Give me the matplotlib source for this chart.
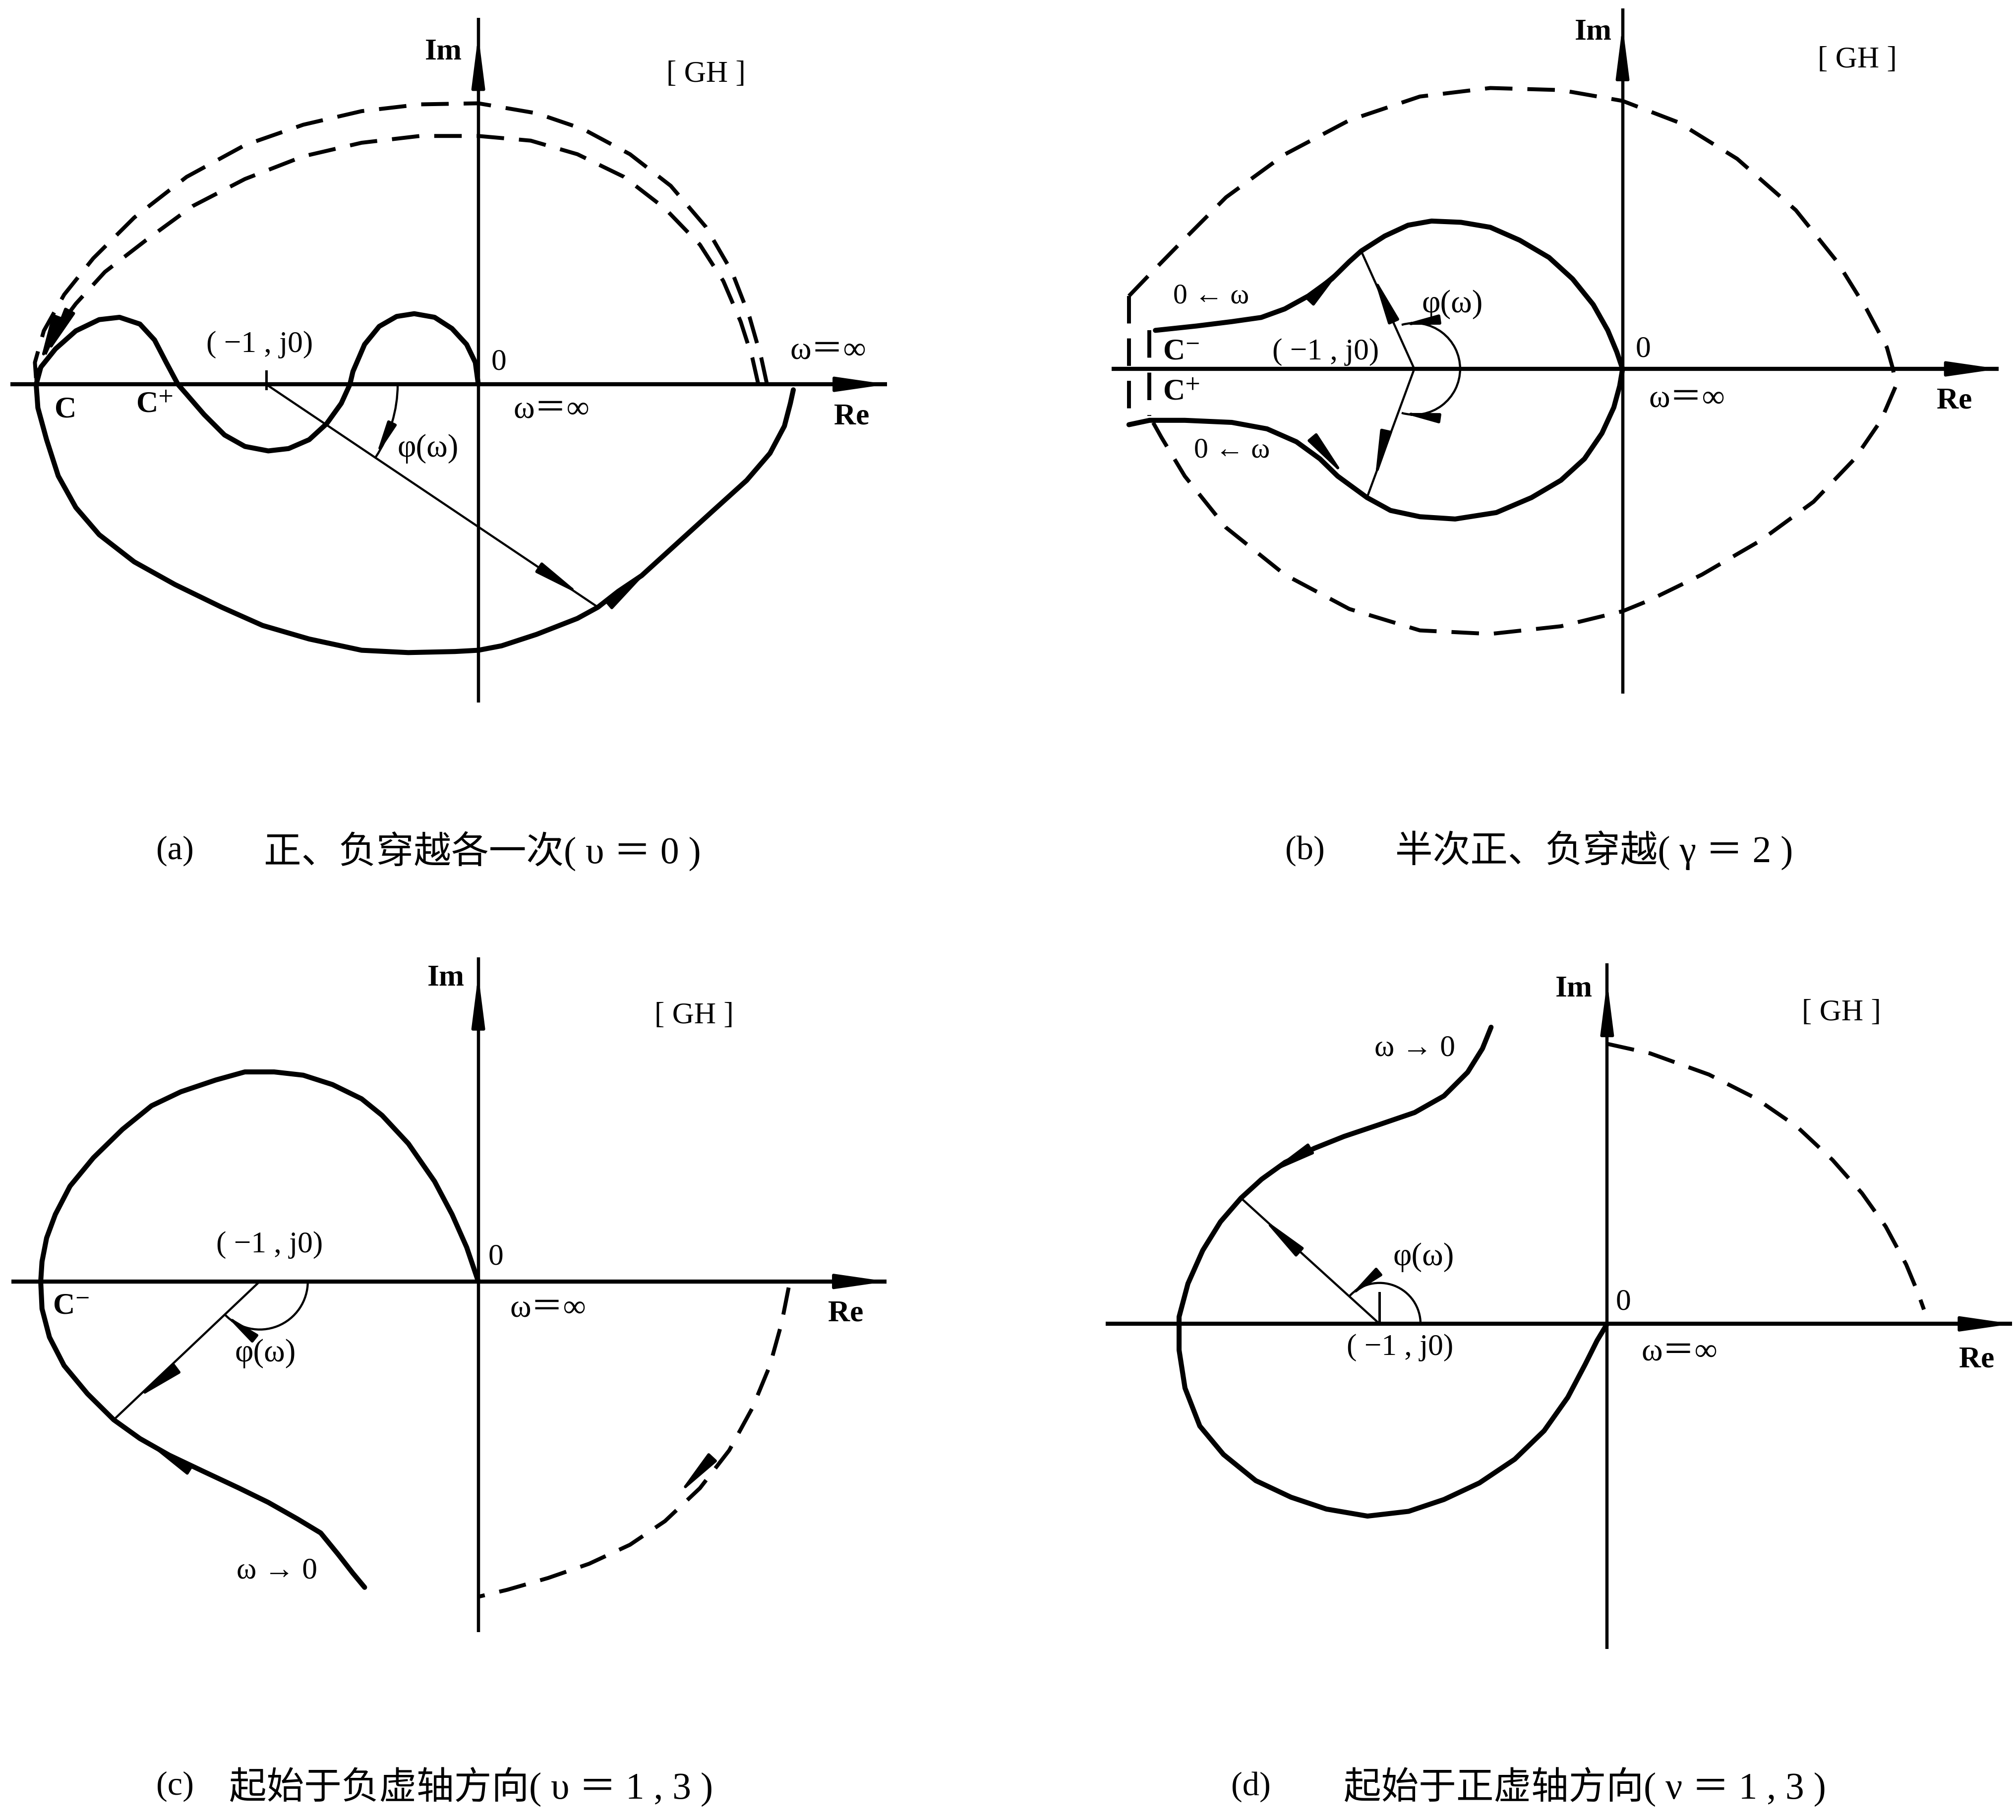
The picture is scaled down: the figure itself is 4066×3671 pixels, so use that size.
import matplotlib
matplotlib.use('Agg')
import matplotlib.pyplot as plt
from matplotlib.patches import Arc
import numpy as np

plt.rcParams['font.family'] = ['Liberation Serif', 'DejaVu Serif', 'Noto Sans CJK SC']
plt.rcParams['mathtext.fontset'] = 'stix'

# points, unit = distance from 0 to (-1, j0)

# ---- (a) ----
a_solid = [(0, 0), (-0.014, 0.103), (-0.055, 0.188), (-0.124, 0.263), (-0.206, 0.316),
           (-0.302, 0.333), (-0.385, 0.320), (-0.467, 0.273), (-0.536, 0.188), (-0.591, 0.060),
           (-0.605, 0), (-0.646, -0.090), (-0.715, -0.186), (-0.797, -0.261), (-0.894, -0.303),
           (-0.990, -0.314), (-1.100, -0.293), (-1.196, -0.239), (-1.292, -0.143), (-1.375, -0.047),
           (-1.416, 0), (-1.471, 0.103), (-1.526, 0.209), (-1.595, 0.284), (-1.691, 0.316),
           (-1.787, 0.305), (-1.897, 0.252), (-1.993, 0.167), (-2.062, 0.081), (-2.084, 0),
           (-2.076, -0.111), (-2.035, -0.261), (-1.980, -0.432), (-1.897, -0.581), (-1.787, -0.709),
           (-1.622, -0.837), (-1.430, -0.944), (-1.210, -1.051), (-1.017, -1.137), (-0.797, -1.201),
           (-0.550, -1.254), (-0.330, -1.265), (-0.110, -1.260), (0, -1.254), (0.110, -1.233),
           (0.275, -1.179), (0.467, -1.104), (0.564, -1.051), (0.660, -0.976), (0.770, -0.902),
           (0.935, -0.752), (1.100, -0.602), (1.265, -0.453), (1.375, -0.325), (1.443, -0.197),
           (1.471, -0.090), (1.485, -0.026)]
a_dash_outer = [(1.361, 0), (1.334, 0.124), (1.279, 0.316), (1.196, 0.530), (1.072, 0.743),
                (0.907, 0.936), (0.715, 1.085), (0.495, 1.203), (0.275, 1.278), (0, 1.325),
                (-0.275, 1.320), (-0.550, 1.288), (-0.825, 1.224), (-1.100, 1.128), (-1.375, 0.978),
                (-1.622, 0.786), (-1.815, 0.594), (-1.952, 0.423), (-2.048, 0.252), (-2.090, 0.103),
                (-2.084, 0.017)]
a_dash_inner = [(1.320, 0), (1.292, 0.124), (1.237, 0.295), (1.155, 0.487), (1.045, 0.658),
                (0.880, 0.829), (0.687, 0.978), (0.467, 1.085), (0.247, 1.149), (0, 1.171),
                (-0.275, 1.171), (-0.550, 1.139), (-0.825, 1.075), (-1.100, 0.968), (-1.347, 0.840),
                (-1.567, 0.679), (-1.760, 0.530), (-1.897, 0.380), (-1.993, 0.252), (-2.062, 0.103),
                (-2.084, 0.017)]
a_radial_end = (0.564, -1.051)
a_phi_r = 0.62
a_re_axis = (-2.206, 1.927)
a_im_axis = (-1.50, 1.727)
a_heads = [((0.70, -0.965), (0.80, -0.88)),      # on the curve
           ((0.33, -0.893), (0.49, -0.998)),     # radial line
           ((-2.00, 0.27), (-2.07, 0.09)),       # dashed ends
           ((-1.95, 0.30), (-2.04, 0.13))]
a_labels = [('Im', -0.164, 1.567, 17, 'bold'), ('[ GH ]', 1.073, 1.461, 17, 'normal'),
            ('0', 0.097, 0.103, 17, 'normal'), ('ω＝∞', 1.65, 0.158, 18, 'normal'),
            ('ω＝∞', 0.345, -0.121, 18, 'normal'), ('Re', 1.76, -0.152, 17, 'bold'),
            ('( −1 , j0)', -1.03, 0.188, 17, 'normal'), ('C', -1.945, -0.121, 17, 'bold'),
            ('C$^{+}$', -1.527, -0.097, 17, 'bold'), ('φ(ω)', -0.236, -0.303, 18, 'normal')]

# ---- (b) ----
b_upper = [(-2.243, 0.185), (-2.045, 0.206), (-1.876, 0.227), (-1.735, 0.247), (-1.622, 0.288),
           (-1.509, 0.350), (-1.396, 0.432), (-1.312, 0.515), (-1.255, 0.566), (-1.142, 0.638),
           (-1.030, 0.690), (-0.917, 0.710), (-0.776, 0.704), (-0.635, 0.680), (-0.494, 0.618),
           (-0.353, 0.535), (-0.240, 0.432), (-0.141, 0.309), (-0.071, 0.185), (-0.028, 0.082),
           (0, 0)]
b_lower = [(0, 0), (-0.014, -0.082), (-0.042, -0.185), (-0.099, -0.309), (-0.183, -0.432),
           (-0.296, -0.535), (-0.437, -0.618), (-0.606, -0.690), (-0.804, -0.721), (-0.973, -0.710),
           (-1.114, -0.680), (-1.227, -0.618), (-1.312, -0.556), (-1.368, -0.515), (-1.453, -0.432),
           (-1.566, -0.350), (-1.707, -0.288), (-1.876, -0.257), (-2.102, -0.247), (-2.271, -0.247),
           (-2.370, -0.268)]
b_dash = [(-2.370, 0.350), (-2.271, 0.453), (-2.130, 0.597), (-1.904, 0.824), (-1.622, 1.030),
          (-1.312, 1.194), (-0.973, 1.308), (-0.635, 1.349), (-0.296, 1.339), (0, 1.287),
          (0.268, 1.184), (0.550, 1.009), (0.832, 0.762), (1.030, 0.515), (1.171, 0.288),
          (1.269, 0.103), (1.298, 0), (1.312, -0.082), (1.241, -0.247), (1.114, -0.432),
          (0.917, -0.638), (0.663, -0.824), (0.381, -0.988), (0.127, -1.112), (0, -1.164),
          (-0.296, -1.236), (-0.635, -1.273), (-0.973, -1.256), (-1.312, -1.153), (-1.622, -0.988),
          (-1.904, -0.762), (-2.102, -0.515), (-2.214, -0.329), (-2.271, -0.227)]
b_dash_left = [(-2.370, 0.350), (-2.370, -0.268)]
b_dash_in = [(-2.271, 0.185), (-2.271, -0.227)]
b_radial_ends = [(-1.255, 0.566), (-1.227, -0.618)]
b_phi_r = 0.22
b_re_axis = (-2.454, 1.805)
b_im_axis = (-1.56, 1.73)
b_heads = [((-1.43, 0.40), (-1.33, 0.505)),
           ((-1.43, -0.40), (-1.33, -0.52)),
           ((-1.14, 0.32), (-1.20, 0.455)),
           ((-1.14, -0.32), (-1.19, -0.54))]
b_labels = [('Im', -0.141, 1.617, 17, 'bold'), ('[ GH ]', 1.128, 1.483, 17, 'normal'),
            ('0 ← ω', -1.975, 0.350, 16, 'normal'), ('0 ← ω', -1.876, -0.391, 16, 'normal'),
            ('φ(ω)', -0.818, 0.309, 18, 'normal'), ('C$^{-}$', -2.120, 0.082, 17, 'bold'),
            ('( −1 , j0)', -1.425, 0.082, 17, 'normal'), ('C$^{+}$', -2.120, -0.113, 17, 'bold'),
            ('0', 0.099, 0.093, 17, 'normal'), ('ω＝∞', 0.310, -0.144, 18, 'normal'),
            ('Re', 1.594, -0.154, 17, 'bold')]

# ---- (c) ----
c_solid = [(0, 0), (-0.053, 0.156), (-0.120, 0.307), (-0.200, 0.458), (-0.320, 0.631),
           (-0.440, 0.760), (-0.534, 0.836), (-0.667, 0.901), (-0.801, 0.944), (-0.934, 0.959),
           (-1.068, 0.959), (-1.201, 0.922), (-1.361, 0.868), (-1.495, 0.804), (-1.628, 0.696),
           (-1.761, 0.566), (-1.868, 0.436), (-1.935, 0.307), (-1.975, 0.199), (-1.996, 0.091),
           (-2.002, 0), (-1.996, -0.125), (-1.962, -0.255), (-1.895, -0.385), (-1.788, -0.514),
           (-1.668, -0.633), (-1.548, -0.719), (-1.414, -0.795), (-1.254, -0.871), (-1.094, -0.946),
           (-0.961, -1.011), (-0.827, -1.087), (-0.721, -1.151), (-0.641, -1.249), (-0.574, -1.335),
           (-0.520, -1.400)]
c_dash = [(1.420, -0.028), (1.388, -0.190), (1.334, -0.385), (1.254, -0.579), (1.148, -0.773),
          (1.014, -0.946), (0.854, -1.097), (0.694, -1.205), (0.507, -1.292), (0.320, -1.357),
          (0.133, -1.411), (0, -1.443)]
c_radial_end = (-1.668, -0.633)
c_phi_r = 0.22
c_re_axis = (-2.135, 1.868)
c_im_axis = (-1.605, 1.484)
c_heads = [((-1.45, -0.45), (-1.57, -0.54)),
           ((-1.40, -0.81), (-1.52, -0.735)),
           ((1.03, -0.85), (0.91, -0.98))]
c_labels = [('Im', -0.147, 1.387, 17, 'bold'), ('[ GH ]', 0.987, 1.214, 17, 'normal'),
            ('( −1 , j0)', -0.955, 0.166, 17, 'normal'), ('0', 0.080, 0.112, 17, 'normal'),
            ('C$^{-}$', -1.864, -0.114, 17, 'bold'), ('ω＝∞', 0.320, -0.125, 18, 'normal'),
            ('Re', 1.681, -0.147, 17, 'bold'), ('φ(ω)', -0.974, -0.331, 18, 'normal'),
            ('ω → 0', -0.921, -1.324, 17, 'normal')]

# ---- (d) ----
d_solid = [(-0.510, 1.304), (-0.548, 1.210), (-0.613, 1.106), (-0.717, 1.002), (-0.846, 0.929),
           (-1.001, 0.876), (-1.156, 0.824), (-1.286, 0.772), (-1.415, 0.710), (-1.518, 0.636),
           (-1.609, 0.553), (-1.699, 0.449), (-1.777, 0.323), (-1.842, 0.177), (-1.881, 0.031),
           (-1.881, -0.115), (-1.855, -0.282), (-1.790, -0.449), (-1.686, -0.574), (-1.544, -0.689),
           (-1.389, -0.762), (-1.234, -0.814), (-1.053, -0.845), (-0.872, -0.824), (-0.717, -0.772),
           (-0.561, -0.699), (-0.406, -0.595), (-0.277, -0.470), (-0.173, -0.323), (-0.096, -0.177),
           (-0.044, -0.073), (0, 0)]
d_dash = [(0, 1.231), (0.189, 1.189), (0.447, 1.096), (0.654, 0.991), (0.835, 0.866),
          (0.991, 0.720), (1.120, 0.574), (1.224, 0.428), (1.314, 0.261), (1.366, 0.136),
          (1.392, 0.063)]
d_radial_end = (-1.609, 0.553)
d_phi_r = 0.18
d_tick = [(-1, 0), (-1, 0.135)]
d_re_axis = (-2.204, 1.780)
d_im_axis = (-1.429, 1.586)
d_heads = [((-1.40, 0.36), (-1.52, 0.47)),
           ((-1.38, 0.725), (-1.50, 0.655))]
d_labels = [('Im', -0.147, 1.471, 17, 'bold'), ('[ GH ]', 1.029, 1.367, 17, 'normal'),
            ('ω → 0', -0.846, 1.210, 17, 'normal'), ('φ(ω)', -0.807, 0.292, 18, 'normal'),
            ('0', 0.072, 0.094, 17, 'normal'), ('( −1 , j0)', -0.911, -0.104, 17, 'normal'),
            ('ω＝∞', 0.318, -0.125, 18, 'normal'), ('Re', 1.624, -0.157, 17, 'bold')]

# captions
cap_tags = ['(a)', '(b)', '(c)', '(d)']
cap_words = ['正、负穿越各一次', '半次正、负穿越', '起始于负虚轴方向', '起始于正虚轴方向']
cap_params = ['( υ ＝ 0 )', '( γ ＝ 2 )', '( υ ＝ 1 , 3 )', '( ν ＝ 1 , 3 )']

# ---- layout (in pixels of a 1568 x 1416 sheet) ----
W, H = 1568.0, 1416.0
dpi = 259.3
fig = plt.figure(figsize=(4066 / dpi, 3671 / dpi), dpi=dpi)
fig.patch.set_facecolor('white')


def make_panel(box, origin, unit):
    x0, y0, x1, y1 = box
    ox, oy = origin
    ax = fig.add_axes([x0 / W, 1 - y1 / H, (x1 - x0) / W, (y1 - y0) / H])
    ax.set_xlim((x0 - ox) / unit, (x1 - ox) / unit)
    ax.set_ylim((oy - y1) / unit, (oy - y0) / unit)
    ax.axis('off')
    return ax


def head(ax, p0, p1, ms=20, hw=0.13):
    ax.annotate('', xy=p1, xytext=p0,
                arrowprops=dict(arrowstyle='-|>,head_length=1.1,head_width=%g' % hw,
                                color='k', lw=1.6, shrinkA=0, shrinkB=0, mutation_scale=ms))


def draw_axes(ax, re_span, im_span):
    ax.plot(re_span, [0, 0], color='k', lw=2.3, solid_capstyle='butt')
    ax.plot([0, 0], im_span, color='k', lw=1.8, solid_capstyle='butt')
    head(ax, (re_span[1] - 0.2, 0), (re_span[1], 0), ms=22, hw=0.16)
    head(ax, (0, im_span[1] - 0.25), (0, im_span[1] - 0.08), ms=22, hw=0.14)


def curve(ax, pts, dashed=False, lw=2.8):
    p = np.array(pts)
    if dashed:
        ax.plot(p[:, 0], p[:, 1], color='k', lw=2.2, dashes=(7, 3.8))
    else:
        ax.plot(p[:, 0], p[:, 1], color='k', lw=lw, solid_joinstyle='round',
                solid_capstyle='round')


def radial(ax, end):
    ax.plot([-1, end[0]], [0, end[1]], color='k', lw=1.2)


def phi_arc(ax, r, t1, t2, tips):
    ax.add_patch(Arc((-1, 0), 2 * r, 2 * r, theta1=t1, theta2=t2, color='k', lw=1.2))
    for ang, sgn in tips:
        a0 = np.radians(ang - sgn * 16)
        a1 = np.radians(ang)
        head(ax, (-1 + r * np.cos(a0), r * np.sin(a0)), (-1 + r * np.cos(a1), r * np.sin(a1)),
             ms=14, hw=0.15)


def labels(ax, items):
    for s, x, y, fs, wt in items:
        ax.text(x, y, s, fontsize=fs, fontweight=wt, ha='center', va='center')


def angle_of(end):
    return np.degrees(np.arctan2(end[1], end[0] + 1))


# (a)
ax = make_panel((0, 0, 784, 620), (372, 299), 165)
draw_axes(ax, a_re_axis, a_im_axis)
curve(ax, a_dash_outer, dashed=True)
curve(ax, a_dash_inner, dashed=True)
curve(ax, a_solid)
radial(ax, a_radial_end)
ax.plot([-1, -1], [-0.02, 0.06], color='k', lw=1.4)
ta = angle_of(a_radial_end)
phi_arc(ax, a_phi_r, ta, 0, [(ta, -1)])
for p0, p1 in a_heads:
    head(ax, p0, p1)
labels(ax, a_labels)

# (b)
ax = make_panel((784, 0, 1568, 620), (1262, 287), 162)
draw_axes(ax, b_re_axis, b_im_axis)
curve(ax, b_dash, dashed=True)
curve(ax, b_dash_left, dashed=True)
curve(ax, b_dash_in, dashed=True)
curve(ax, b_upper)
curve(ax, b_lower)
for e in b_radial_ends:
    radial(ax, e)
phi_arc(ax, b_phi_r, -106, 106, [(106, 1), (-106, -1)])
for p0, p1 in b_heads:
    head(ax, p0, p1)
labels(ax, b_labels)

# (c)
ax = make_panel((0, 700, 784, 1330), (372, 997), 170)
draw_axes(ax, c_re_axis, c_im_axis)
curve(ax, c_dash, dashed=True)
curve(ax, c_solid)
radial(ax, c_radial_end)
tc = angle_of(c_radial_end)
phi_arc(ax, c_phi_r, tc, 0, [(tc, -1)])
for p0, p1 in c_heads:
    head(ax, p0, p1)
labels(ax, c_labels)

# (d)
ax = make_panel((784, 700, 1568, 1330), (1250, 1030), 177)
draw_axes(ax, d_re_axis, d_im_axis)
curve(ax, d_dash, dashed=True)
curve(ax, d_solid)
radial(ax, d_radial_end)
ax.plot(*np.array(d_tick).T, color='k', lw=1.4)
td = angle_of(d_radial_end)
phi_arc(ax, d_phi_r, 0, td, [(td, 1)])
for p0, p1 in d_heads:
    head(ax, p0, p1)
labels(ax, d_labels)

# captions (pixel positions on the sheet)
cap_pos = [(136, 205, 662), (1015, 1085, 662), (136, 178, 1390), (973, 1045, 1390)]
for tag, words, par, (xt, xw, y) in zip(cap_tags, cap_words, cap_params, cap_pos):
    fig.text(xt / W, 1 - y / H, tag, fontsize=19, ha='center', va='center')
    fig.text(xw / W, 1 - y / H, words + par, fontsize=21, ha='left', va='center')

fig.savefig('out.png', dpi=dpi, facecolor='white')
